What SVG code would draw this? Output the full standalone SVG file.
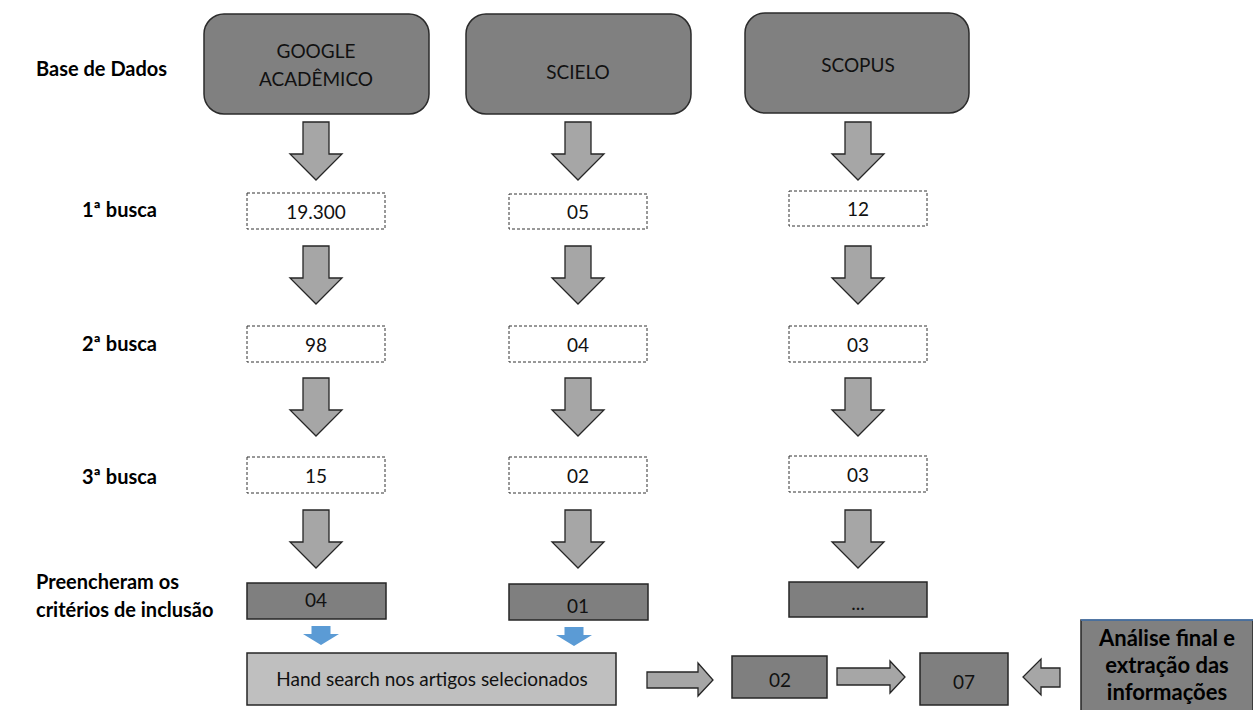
<svg xmlns="http://www.w3.org/2000/svg" width="1253" height="710" viewBox="0 0 1253 710">
<style>
.db{fill:#808080;stroke:#2b2b2b;stroke-width:1.5}
.dash{fill:#fff;stroke:#333;stroke-width:1;stroke-dasharray:3,2}
.res{fill:#7f7f7f;stroke:#262626;stroke-width:1.5}
.hand{fill:#bfbfbf;stroke:#262626;stroke-width:1.5}
.arr{fill:#a6a6a6;stroke:#262626;stroke-width:1.3}
.blue{fill:#5b9bd5;stroke:none}
.t{font-family:Lato,"Liberation Sans",sans-serif;font-size:19px;fill:#111;text-anchor:middle}
.lbl{font-family:Lato,"Liberation Sans",sans-serif;font-size:20px;font-weight:bold;fill:#000}
.an{font-family:Lato,"Liberation Sans",sans-serif;font-size:22px;font-weight:bold;fill:#000;text-anchor:middle}
</style>
<defs>
<path id="down" d="M-13,0 H13 V32 H26 L0,58 L-26,32 H-13 Z"/>
<path id="bdown" d="M-9.5,0 H9.5 V8 H18 L0,19 L-18,8 H-9.5 Z"/>
</defs>

<g id="labels">
<text class="lbl" x="36" y="76">Base de Dados</text>
<text class="lbl" x="82" y="217">1ª busca</text>
<text class="lbl" x="82" y="351">2ª busca</text>
<text class="lbl" x="82" y="484">3ª busca</text>
<text class="lbl" x="36" y="589">Preencheram os</text>
<text class="lbl" x="36" y="617">critérios de inclusão</text>
</g>

<g id="google">
<rect class="db" x="204" y="14" width="225" height="100" rx="20"/>
<text class="t" x="316" y="58">GOOGLE</text>
<text class="t" x="316" y="86">ACADÊMICO</text>
</g>
<g id="scielo">
<rect class="db" x="466" y="14" width="225" height="100" rx="20"/>
<text class="t" x="578" y="79">SCIELO</text>
</g>
<g id="scopus">
<rect class="db" x="745" y="13" width="224" height="100" rx="20"/>
<text class="t" x="858" y="72">SCOPUS</text>
</g>

<g id="g1"><rect class="dash" x="247" y="193" width="138" height="36"/><text class="t" x="316" y="219" font-size="20">19.300</text></g>
<g id="s1"><rect class="dash" x="509" y="194" width="138" height="35"/><text class="t" x="578" y="219" font-size="20">05</text></g>
<g id="p1"><rect class="dash" x="789" y="191" width="138" height="35"/><text class="t" x="858" y="216" font-size="20">12</text></g>

<g id="g2"><rect class="dash" x="247" y="326" width="138" height="36"/><text class="t" x="316" y="352" font-size="20">98</text></g>
<g id="s2"><rect class="dash" x="509" y="326" width="138" height="36"/><text class="t" x="578" y="352" font-size="20">04</text></g>
<g id="p2"><rect class="dash" x="789" y="326" width="138" height="36"/><text class="t" x="858" y="352" font-size="20">03</text></g>

<g id="g3"><rect class="dash" x="247" y="457" width="138" height="36"/><text class="t" x="316" y="483" font-size="20">15</text></g>
<g id="s3"><rect class="dash" x="509" y="457" width="138" height="36"/><text class="t" x="578" y="483" font-size="20">02</text></g>
<g id="p3"><rect class="dash" x="789" y="456" width="138" height="36"/><text class="t" x="858" y="482" font-size="20">03</text></g>

<g id="g4"><rect class="res" x="247" y="583" width="139" height="36"/><text class="t" x="316" y="607" font-size="20">04</text></g>
<g id="s4"><rect class="res" x="509" y="584" width="139" height="36"/><text class="t" x="578" y="613" font-size="20">01</text></g>
<g id="p4"><rect class="res" x="789" y="582" width="138" height="35"/><text class="t" x="858" y="610" font-size="20">...</text></g>

<g id="hand"><rect class="hand" x="247" y="653" width="369" height="52"/><text class="t" x="432" y="686" font-size="18.6">Hand search nos artigos selecionados</text></g>
<g id="n02"><rect class="res" x="732" y="656" width="95" height="42"/><text class="t" x="780" y="687" font-size="20">02</text></g>
<g id="n07"><rect class="res" x="920" y="653" width="88" height="52"/><text class="t" x="964" y="689" font-size="20">07</text></g>
<g id="analise"><rect x="1081" y="620" width="172" height="92" fill="#808080" stroke="#262626" stroke-width="1.5"/>
<line x1="1081" y1="620" x2="1253" y2="620" stroke="#4f81bd" stroke-width="1.5"/>
<text class="an" x="1167" y="646">Análise final e</text>
<text class="an" x="1167" y="673">extração das</text>
<text class="an" x="1167" y="700">informações</text>
</g>

<g id="connectors">
<use href="#down" class="arr" x="316" y="122"/>
<use href="#down" class="arr" x="578" y="122"/>
<use href="#down" class="arr" x="858" y="122"/>
<use href="#down" class="arr" x="316" y="246"/>
<use href="#down" class="arr" x="578" y="246"/>
<use href="#down" class="arr" x="858" y="246"/>
<use href="#down" class="arr" x="316" y="378"/>
<use href="#down" class="arr" x="578" y="378"/>
<use href="#down" class="arr" x="858" y="378"/>
<use href="#down" class="arr" x="316" y="510"/>
<use href="#down" class="arr" x="578" y="510"/>
<use href="#down" class="arr" x="858" y="510"/>
<use href="#bdown" class="blue" x="321" y="626"/>
<use href="#bdown" class="blue" x="574" y="627"/>
<path class="arr" d="M647,672 H698 V663 L713,680 L698,696 V688 H647 Z"/>
<path class="arr" d="M837,668 H890 V661 L905,677 L890,693 V685 H837 Z"/>
<path class="arr" d="M1060,668 H1041 V659 L1023,677 L1041,695 V687 H1060 Z"/>
</g>
</svg>
